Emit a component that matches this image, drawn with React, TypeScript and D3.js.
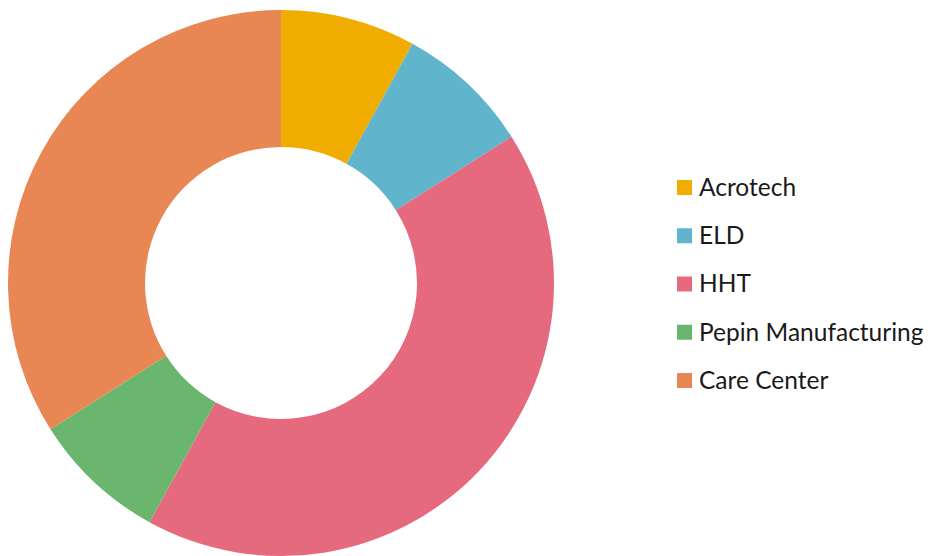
import * as d3 from "d3";
import React, { useEffect, useRef } from "react";

const categories = ["Acrotech", "ELD", "HHT", "Pepin Manufacturing", "Care Center"];
const values = [2, 2, 10.5, 2, 8.5];
const colors = ["#F0AD00", "#60B4CC", "#E66A7E", "#6BB66E", "#E88753"];

const WIDTH = 931;
const HEIGHT = 556;

const App = () => {
    const svgRef = useRef<SVGSVGElement | null>(null);

    useEffect(() => {
        const svg = d3.select(svgRef.current);
        svg.selectAll("*").remove();

        const cx = 281;
        const cy = 283;
        const outer = 273;
        const inner = 136;

        const data = categories.map((c, i) => ({ name: c, value: values[i], color: colors[i] }));

        const pie = d3.pie<any>().sort(null).value(d => d.value);
        const arc = d3.arc<any>().innerRadius(inner).outerRadius(outer);

        svg.append("g")
            .attr("transform", `translate(${cx},${cy})`)
            .selectAll("path")
            .data(pie(data))
            .enter()
            .append("path")
            .attr("d", arc)
            .attr("fill", d => d.data.color);

        // legend
        const legendY = d3.scalePoint<string>()
            .domain(categories)
            .range([187, 380]);

        const legend = svg.append("g")
            .selectAll("g")
            .data(data)
            .enter()
            .append("g")
            .attr("transform", d => `translate(677,${legendY(d.name)})`);

        legend.append("rect")
            .attr("x", 0)
            .attr("y", -7)
            .attr("width", 15)
            .attr("height", 15)
            .attr("fill", d => d.color);

        legend.append("text")
            .attr("x", 22)
            .attr("y", 0)
            .attr("dy", "0.36em")
            .attr("font-family", "Lato, sans-serif")
            .attr("font-size", 24.5)
            .attr("fill", "#1a1a1a")
            .text(d => d.name);
    }, []);

    return (
        <svg
            ref={svgRef}
            width={WIDTH}
            height={HEIGHT}
            style={{ position: "absolute", left: 0, top: 0, background: "#fff" }}
        ></svg>
    );
};

export default App;
